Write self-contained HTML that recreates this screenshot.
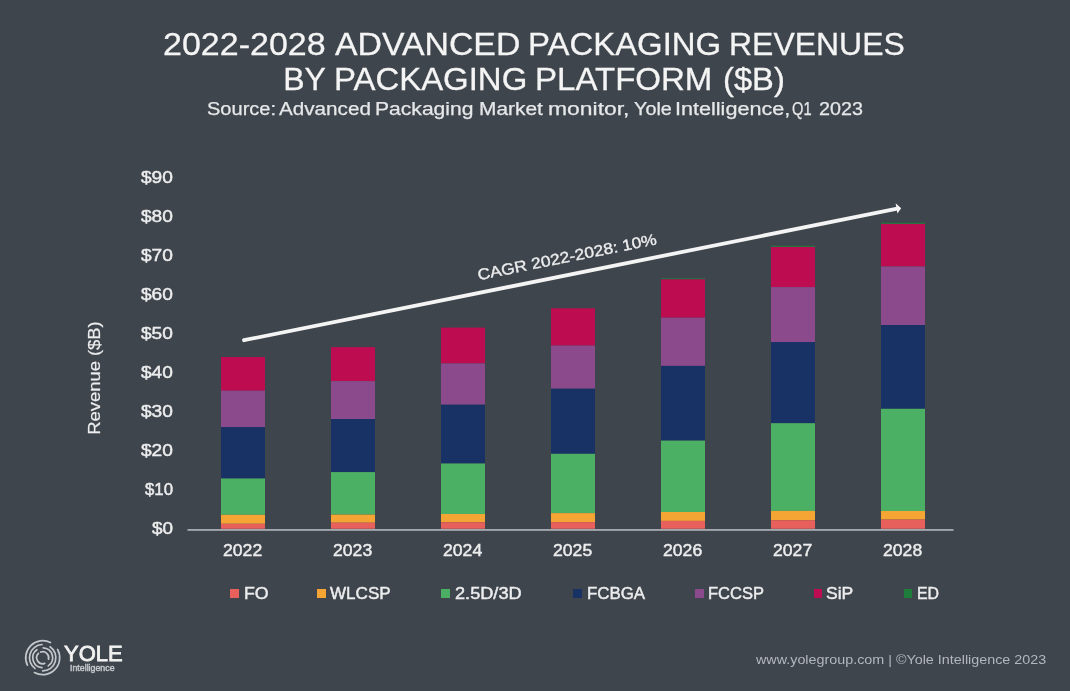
<!DOCTYPE html>
<html><head><meta charset="utf-8">
<style>
html,body{margin:0;padding:0;}
body{width:1070px;height:691px;background:#3e454c;position:relative;overflow:hidden;font-family:"Liberation Sans",sans-serif;color:#f1f1f1;}
.t{position:absolute;white-space:nowrap;line-height:1;transform-origin:0 0;}
.sq{position:absolute;width:8.6px;height:8.6px;}
svg{position:absolute;left:0;top:0;}
</style></head><body><div id="w" style="position:absolute;left:0;top:0;width:1070px;height:691px;filter:blur(0.35px)">
<svg width="1070" height="691" viewBox="0 0 1070 691">
<rect x="221" y="357.0" width="44" height="33.7" fill="#bd0d50"/>
<rect x="221" y="390.7" width="44" height="36.4" fill="#8b4a8c"/>
<rect x="221" y="427.1" width="44" height="51.4" fill="#193266"/>
<rect x="221" y="478.5" width="44" height="36.3" fill="#4cb064"/>
<rect x="221" y="514.8" width="44" height="9.0" fill="#f4a533"/>
<rect x="221" y="523.8" width="44" height="5.0" fill="#e8605b"/>
<rect x="331" y="347.1" width="44" height="34.0" fill="#bd0d50"/>
<rect x="331" y="381.1" width="44" height="37.9" fill="#8b4a8c"/>
<rect x="331" y="419.0" width="44" height="53.1" fill="#193266"/>
<rect x="331" y="472.1" width="44" height="42.5" fill="#4cb064"/>
<rect x="331" y="514.6" width="44" height="8.1" fill="#f4a533"/>
<rect x="331" y="522.7" width="44" height="6.1" fill="#e8605b"/>
<rect x="441" y="327.6" width="44" height="35.8" fill="#bd0d50"/>
<rect x="441" y="363.4" width="44" height="41.3" fill="#8b4a8c"/>
<rect x="441" y="404.7" width="44" height="58.8" fill="#193266"/>
<rect x="441" y="463.5" width="44" height="50.5" fill="#4cb064"/>
<rect x="441" y="514.0" width="44" height="8.3" fill="#f4a533"/>
<rect x="441" y="522.3" width="44" height="6.5" fill="#e8605b"/>
<rect x="551" y="308.3" width="44" height="37.3" fill="#bd0d50"/>
<rect x="551" y="345.6" width="44" height="43.1" fill="#8b4a8c"/>
<rect x="551" y="388.7" width="44" height="65.1" fill="#193266"/>
<rect x="551" y="453.8" width="44" height="59.3" fill="#4cb064"/>
<rect x="551" y="513.1" width="44" height="9.0" fill="#f4a533"/>
<rect x="551" y="522.1" width="44" height="6.7" fill="#e8605b"/>
<rect x="661" y="278.1" width="44" height="1.3" fill="#2a6e42"/>
<rect x="661" y="279.4" width="44" height="38.3" fill="#bd0d50"/>
<rect x="661" y="317.7" width="44" height="48.2" fill="#8b4a8c"/>
<rect x="661" y="365.9" width="44" height="74.7" fill="#193266"/>
<rect x="661" y="440.6" width="44" height="71.4" fill="#4cb064"/>
<rect x="661" y="512.0" width="44" height="8.9" fill="#f4a533"/>
<rect x="661" y="520.9" width="44" height="7.9" fill="#e8605b"/>
<rect x="771" y="245.6" width="44" height="1.4" fill="#2a6e42"/>
<rect x="771" y="247.0" width="44" height="40.1" fill="#bd0d50"/>
<rect x="771" y="287.1" width="44" height="55.0" fill="#8b4a8c"/>
<rect x="771" y="342.1" width="44" height="81.1" fill="#193266"/>
<rect x="771" y="423.2" width="44" height="87.7" fill="#4cb064"/>
<rect x="771" y="510.9" width="44" height="9.3" fill="#f4a533"/>
<rect x="771" y="520.2" width="44" height="8.6" fill="#e8605b"/>
<rect x="881" y="222.6" width="44" height="1.4" fill="#2a6e42"/>
<rect x="881" y="224.0" width="44" height="42.5" fill="#bd0d50"/>
<rect x="881" y="266.5" width="44" height="58.5" fill="#8b4a8c"/>
<rect x="881" y="325.0" width="44" height="83.8" fill="#193266"/>
<rect x="881" y="408.8" width="44" height="102.2" fill="#4cb064"/>
<rect x="881" y="511.0" width="44" height="8.6" fill="#f4a533"/>
<rect x="881" y="519.6" width="44" height="9.2" fill="#e8605b"/>
<rect x="187.5" y="529.2" width="766" height="1.5" fill="#bcc0c6"/>
<line x1="244" y1="340.2" x2="896" y2="208.9" stroke="#f4f4f4" stroke-width="3.8" stroke-linecap="round"/>
<polygon points="901.2,208.2 895.6,203.2 897.4,213.4" fill="#f4f4f4"/>
<path d="M27.42 665.15A17.0 17.0 0 0 1 50.42 642.55 M57.57 649.46A17.0 17.0 0 0 1 34.46 672.57 M34.94 668.38A13.2 13.2 0 0 1 42.01 644.52 M50.08 646.76A13.2 13.2 0 0 1 42.70 670.90 M42.01 667.58A9.9 9.9 0 0 1 36.88 649.69 M43.22 647.81A9.9 9.9 0 0 1 48.24 665.91 M44.75 663.34A6.0 6.0 0 0 1 38.46 653.46 M40.65 652.06A6.0 6.0 0 0 1 48.50 659.25" fill="none" stroke="#c4c7cb" stroke-width="1.7" stroke-linecap="round"/>
</svg>
<div class="t" style="left:162.87px;top:28.00px;font-size:32px;-webkit-text-stroke:0.3px #f4f4f4;color:#f4f4f4;transform:scaleX(1.0627)">2022-2028</div>
<div class="t" style="left:335.19px;top:28.00px;font-size:32px;-webkit-text-stroke:0.3px #f4f4f4;color:#f4f4f4;transform:scaleX(1.0564)">ADVANCED</div>
<div class="t" style="left:527.73px;top:28.00px;font-size:32px;-webkit-text-stroke:0.3px #f4f4f4;color:#f4f4f4;transform:scaleX(1.0279)">PACKAGING</div>
<div class="t" style="left:729.41px;top:28.00px;font-size:32px;-webkit-text-stroke:0.3px #f4f4f4;color:#f4f4f4;transform:scaleX(0.9983)">REVENUES</div>
<div class="t" style="left:283.20px;top:62.70px;font-size:32px;-webkit-text-stroke:0.3px #f4f4f4;color:#f4f4f4;transform:scaleX(1.0000)">BY</div>
<div class="t" style="left:333.52px;top:62.70px;font-size:32px;-webkit-text-stroke:0.3px #f4f4f4;color:#f4f4f4;transform:scaleX(1.0284)">PACKAGING</div>
<div class="t" style="left:534.51px;top:62.70px;font-size:32px;-webkit-text-stroke:0.3px #f4f4f4;color:#f4f4f4;transform:scaleX(1.0319)">PLATFORM</div>
<div class="t" style="left:722.97px;top:62.70px;font-size:32px;-webkit-text-stroke:0.3px #f4f4f4;color:#f4f4f4;transform:scaleX(1.0229)">($B)</div>
<div class="t" style="left:206.68px;top:100.92px;font-size:17.5px;-webkit-text-stroke:0.25px #e6e7e9;color:#e6e7e9;transform:scaleX(1.1449)">Source:</div>
<div class="t" style="left:279.32px;top:100.92px;font-size:17.5px;-webkit-text-stroke:0.25px #e6e7e9;color:#e6e7e9;transform:scaleX(1.1805)">Advanced</div>
<div class="t" style="left:375.43px;top:100.92px;font-size:17.5px;-webkit-text-stroke:0.25px #e6e7e9;color:#e6e7e9;transform:scaleX(1.2051)">Packaging</div>
<div class="t" style="left:478.70px;top:100.92px;font-size:17.5px;-webkit-text-stroke:0.25px #e6e7e9;color:#e6e7e9;transform:scaleX(1.1943)">Market</div>
<div class="t" style="left:548.26px;top:100.92px;font-size:17.5px;-webkit-text-stroke:0.25px #e6e7e9;color:#e6e7e9;transform:scaleX(1.3084)">monitor,</div>
<div class="t" style="left:633.70px;top:100.92px;font-size:17.5px;-webkit-text-stroke:0.25px #e6e7e9;color:#e6e7e9;transform:scaleX(1.1343)">Yole</div>
<div class="t" style="left:675.34px;top:100.92px;font-size:17.5px;-webkit-text-stroke:0.25px #e6e7e9;color:#e6e7e9;transform:scaleX(1.2342)">Intelligence,</div>
<div class="t" style="left:792.49px;top:100.92px;font-size:17.5px;-webkit-text-stroke:0.25px #e6e7e9;color:#e6e7e9;transform:scaleX(0.8385)">Q1</div>
<div class="t" style="left:818.52px;top:100.92px;font-size:17.5px;-webkit-text-stroke:0.25px #e6e7e9;color:#e6e7e9;transform:scaleX(1.1265)">2023</div>
<div class="t" style="left:141.00px;top:170.10px;font-size:16px;-webkit-text-stroke:0.45px #ededee;color:#ededee;transform:scaleX(1.1935)">$90</div>
<div class="t" style="left:141.00px;top:209.00px;font-size:16px;-webkit-text-stroke:0.45px #ededee;color:#ededee;transform:scaleX(1.1935)">$80</div>
<div class="t" style="left:141.00px;top:248.00px;font-size:16px;-webkit-text-stroke:0.45px #ededee;color:#ededee;transform:scaleX(1.1935)">$70</div>
<div class="t" style="left:141.00px;top:286.90px;font-size:16px;-webkit-text-stroke:0.45px #ededee;color:#ededee;transform:scaleX(1.1935)">$60</div>
<div class="t" style="left:141.00px;top:325.90px;font-size:16px;-webkit-text-stroke:0.45px #ededee;color:#ededee;transform:scaleX(1.1935)">$50</div>
<div class="t" style="left:141.00px;top:364.80px;font-size:16px;-webkit-text-stroke:0.45px #ededee;color:#ededee;transform:scaleX(1.1935)">$40</div>
<div class="t" style="left:141.00px;top:403.80px;font-size:16px;-webkit-text-stroke:0.45px #ededee;color:#ededee;transform:scaleX(1.1935)">$30</div>
<div class="t" style="left:141.00px;top:442.70px;font-size:16px;-webkit-text-stroke:0.45px #ededee;color:#ededee;transform:scaleX(1.1935)">$20</div>
<div class="t" style="left:145.21px;top:482.20px;font-size:16px;-webkit-text-stroke:0.45px #ededee;color:#ededee;transform:scaleX(1.0474)">$10</div>
<div class="t" style="left:152.00px;top:520.60px;font-size:16px;-webkit-text-stroke:0.45px #ededee;color:#ededee;transform:scaleX(1.1793)">$0</div>
<div class="t" style="left:223.27px;top:541.98px;font-size:16.5px;-webkit-text-stroke:0.45px #ededee;color:#ededee;transform:scaleX(1.0682)">2022</div>
<div class="t" style="left:333.27px;top:541.98px;font-size:16.5px;-webkit-text-stroke:0.45px #ededee;color:#ededee;transform:scaleX(1.0682)">2023</div>
<div class="t" style="left:443.27px;top:541.98px;font-size:16.5px;-webkit-text-stroke:0.45px #ededee;color:#ededee;transform:scaleX(1.0683)">2024</div>
<div class="t" style="left:553.26px;top:541.98px;font-size:16.5px;-webkit-text-stroke:0.45px #ededee;color:#ededee;transform:scaleX(1.0676)">2025</div>
<div class="t" style="left:663.27px;top:541.98px;font-size:16.5px;-webkit-text-stroke:0.45px #ededee;color:#ededee;transform:scaleX(1.0682)">2026</div>
<div class="t" style="left:773.27px;top:541.98px;font-size:16.5px;-webkit-text-stroke:0.45px #ededee;color:#ededee;transform:scaleX(1.0682)">2027</div>
<div class="t" style="left:883.26px;top:541.98px;font-size:16.5px;-webkit-text-stroke:0.45px #ededee;color:#ededee;transform:scaleX(1.0676)">2028</div>
<div class="t" style="left:243.54px;top:584.77px;font-size:16.5px;-webkit-text-stroke:0.45px #ededee;color:#ededee;transform:scaleX(1.0754)">FO</div>
<div class="t" style="left:330.49px;top:584.77px;font-size:16.5px;-webkit-text-stroke:0.45px #ededee;color:#ededee;transform:scaleX(1.0341)">WLCSP</div>
<div class="t" style="left:455.17px;top:584.77px;font-size:16.5px;-webkit-text-stroke:0.45px #ededee;color:#ededee;transform:scaleX(1.1004)">2.5D/3D</div>
<div class="t" style="left:586.69px;top:584.77px;font-size:16.5px;-webkit-text-stroke:0.45px #ededee;color:#ededee;transform:scaleX(1.0217)">FCBGA</div>
<div class="t" style="left:708.00px;top:584.77px;font-size:16.5px;-webkit-text-stroke:0.45px #ededee;color:#ededee;transform:scaleX(1.0004)">FCCSP</div>
<div class="t" style="left:826.18px;top:584.77px;font-size:16.5px;-webkit-text-stroke:0.45px #ededee;color:#ededee;transform:scaleX(1.0630)">SiP</div>
<div class="t" style="left:916.94px;top:584.77px;font-size:16.5px;-webkit-text-stroke:0.45px #ededee;color:#ededee;transform:scaleX(0.9626)">ED</div>
<div class="t" style="left:755.81px;top:652.92px;font-size:13.5px;color:#b3b7bc;transform:scaleX(1.0614)">www.yolegroup.com | ©Yole Intelligence 2023</div>
<div class="t" style="left:63.83px;top:642.90px;font-size:22px;-webkit-text-stroke:0.8px #f2f2f2;color:#f2f2f2;transform:scaleX(0.9980)">YOLE</div>
<div class="t" style="left:69.76px;top:663.77px;font-size:8.5px;-webkit-text-stroke:0.45px #c4c7cb;color:#c4c7cb;transform:scaleX(1.0361)">Intelligence</div>
<div class="sq" style="left:230.2px;top:589.1px;background:#e8605b"></div><div class="sq" style="left:317px;top:589.1px;background:#f4a533"></div><div class="sq" style="left:441px;top:589.1px;background:#4cb064"></div><div class="sq" style="left:573.3px;top:589.1px;background:#193266"></div><div class="sq" style="left:695px;top:589.1px;background:#8b4a8c"></div><div class="sq" style="left:813.7px;top:589.1px;background:#bd0d50"></div><div class="sq" style="left:903.5px;top:589.1px;background:#1f7d3b"></div>
<div class="t" style="left:94.3px;top:378.4px;font-size:17px;color:#ededee;-webkit-text-stroke:0.2px #ededee;transform-origin:0 0;transform:rotate(-90deg) scaleX(1.082) translate(-50%,-50%);">Revenue ($B)</div>
<div class="t" style="left:567px;top:256.5px;font-size:15.5px;color:#ededee;-webkit-text-stroke:0.35px #ededee;transform-origin:0 0;transform:rotate(-11.4deg) scaleX(1.12) translate(-50%,-50%);">CAGR 2022-2028: 10%</div>
</div></body></html>
